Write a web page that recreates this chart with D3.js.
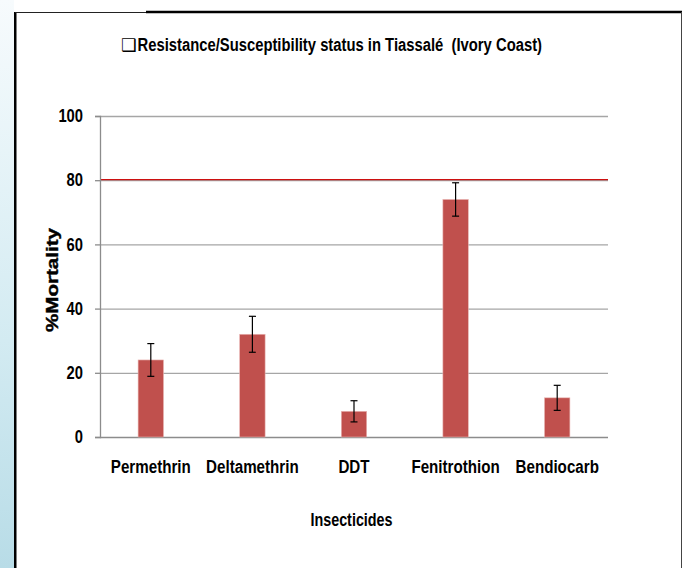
<!DOCTYPE html>
<html>
<head>
<meta charset="utf-8">
<script src="https://cdn.jsdelivr.net/npm/d3@7"></script>
<style>
  body { margin: 0; background: #fff; }
  svg text { font-family: 'Liberation Sans', Arial, sans-serif; font-weight: bold; fill: #000; }
</style>
</head>
<body>
<svg id="chart"></svg>
<script>
const categories = ['Permethrin', 'Deltamethrin', 'DDT', 'Fenitrothion', 'Bendiocarb'];
const mortality = [24, 32, 8, 74, 12.2];
const errors = [5.1, 5.6, 3.3, 5.2, 3.9];
const yTicks = [0, 20, 40, 60, 80, 100];
const threshold = 80;

const width = 683, height = 568;
const margin = { top: 116, right: 75, bottom: 131, left: 100 };
const narrow = 0.82; // labels look condensed in the reference

const svg = d3.select('#chart')
    .attr('width', width)
    .attr('height', height);

// left blue strip
const defs = svg.append('defs');
const grad = defs.append('linearGradient')
    .attr('id', 'strip')
    .attr('x1', 0).attr('y1', 0).attr('x2', 0).attr('y2', 1);
grad.append('stop').attr('offset', '0%').attr('stop-color', '#f7fbfd');
grad.append('stop').attr('offset', '60%').attr('stop-color', '#d3ebf2');
grad.append('stop').attr('offset', '100%').attr('stop-color', '#b8dce7');

svg.append('rect')
    .attr('x', 0).attr('y', 0)
    .attr('width', 14).attr('height', height)
    .attr('fill', 'url(#strip)');

// frame
svg.append('rect')
    .attr('x', 14).attr('y', 12)
    .attr('width', 2.5).attr('height', height - 12)
    .attr('fill', '#000');
svg.append('line')
    .attr('x1', 15).attr('x2', 146).attr('y1', 12.5).attr('y2', 12.5)
    .attr('stroke', '#222').attr('stroke-width', 1);
svg.append('line')
    .attr('x1', 146).attr('x2', 682).attr('y1', 12).attr('y2', 12)
    .attr('stroke', '#000').attr('stroke-width', 2.5);
svg.append('line')
    .attr('x1', 681.5).attr('x2', 681.5).attr('y1', 12).attr('y2', height)
    .attr('stroke', '#444').attr('stroke-width', 1);

const x = d3.scaleBand()
    .domain(categories)
    .range([margin.left, width - margin.right])
    .paddingInner(0.75)
    .paddingOuter(0.375);

const y = d3.scaleLinear()
    .domain([0, 100])
    .range([height - margin.bottom, margin.top]);

// gridlines
svg.append('g')
    .selectAll('line')
    .data(yTicks.filter(d => d > 0))
    .join('line')
    .attr('x1', margin.left).attr('x2', width - margin.right)
    .attr('y1', d => y(d) + 0.5).attr('y2', d => y(d) + 0.5)
    .attr('stroke', '#a6a6a6').attr('stroke-width', 1.3);

// threshold line
svg.append('line')
    .attr('x1', margin.left).attr('x2', width - margin.right)
    .attr('y1', y(threshold) - 0.6).attr('y2', y(threshold) - 0.6)
    .attr('stroke', '#cc1010').attr('stroke-width', 1.4);

// y axis
const yAxis = d3.axisLeft(y)
    .tickValues(yTicks)
    .tickSize(5)
    .tickPadding(12);

const gY = svg.append('g')
    .attr('transform', `translate(${margin.left},0)`)
    .call(yAxis);
gY.select('.domain').attr('stroke', '#8c8c8c').attr('stroke-width', 1.3);
gY.selectAll('.tick line').attr('stroke', '#8c8c8c').attr('stroke-width', 1.3);
gY.selectAll('.tick text')
    .attr('font-size', 18)
    .attr('font-family', null)
    .attr('fill', '#000')
    .attr('x', -17 / narrow)
    .attr('transform', `scale(${narrow},1)`);

// x axis baseline
svg.append('line')
    .attr('x1', margin.left).attr('x2', width - margin.right)
    .attr('y1', y(0) + 0.5).attr('y2', y(0) + 0.5)
    .attr('stroke', '#8c8c8c').attr('stroke-width', 1.3);

// bars
svg.append('g')
    .selectAll('rect')
    .data(categories)
    .join('rect')
    .attr('x', d => x(d))
    .attr('width', x.bandwidth())
    .attr('y', (d, i) => y(mortality[i]))
    .attr('height', (d, i) => y(0) - y(mortality[i]))
    .attr('fill', '#c0504d')
    .attr('stroke', '#e8b4b2')
    .attr('stroke-width', 0.6);

// error bars
const eb = svg.append('g')
    .selectAll('g')
    .data(categories)
    .join('g')
    .attr('transform', d => `translate(${x(d) + x.bandwidth() / 2},0)`);
eb.append('line')
    .attr('y1', (d, i) => y(mortality[i] + errors[i]))
    .attr('y2', (d, i) => y(mortality[i] - errors[i]))
    .attr('stroke', '#000').attr('stroke-width', 1.2);
eb.append('line')
    .attr('x1', -3.5).attr('x2', 3.5)
    .attr('y1', (d, i) => y(mortality[i] + errors[i]))
    .attr('y2', (d, i) => y(mortality[i] + errors[i]))
    .attr('stroke', '#000').attr('stroke-width', 1.2);
eb.append('line')
    .attr('x1', -3.5).attr('x2', 3.5)
    .attr('y1', (d, i) => y(mortality[i] - errors[i]))
    .attr('y2', (d, i) => y(mortality[i] - errors[i]))
    .attr('stroke', '#000').attr('stroke-width', 1.2);

// category labels
svg.append('g')
    .selectAll('text')
    .data(categories)
    .join('text')
    .attr('transform', d => `translate(${x(d) + x.bandwidth() / 2},473) scale(${narrow},1)`)
    .attr('text-anchor', 'middle')
    .attr('font-size', 18.5)
    .text(d => d);

// axis titles
svg.append('text')
    .attr('transform', `translate(351.5,526) scale(${narrow},1)`)
    .attr('text-anchor', 'middle')
    .attr('font-size', 17.5)
    .text('Insecticides');

svg.append('text')
    .attr('transform', 'translate(57.5,280) rotate(-90)')
    .attr('text-anchor', 'middle')
    .attr('font-size', 16.5)
    .attr('stroke', '#000')
    .attr('stroke-width', 0.4)
    .attr('textLength', 104)
    .attr('lengthAdjust', 'spacingAndGlyphs')
    .text('%Mortality');

// chart title
const title = svg.append('text')
    .attr('x', 121).attr('y', 50.7)
    .attr('font-size', 17.5);
title.append('tspan')
    .style('font-family', "'DejaVu Sans', sans-serif")
    .style('font-weight', 'normal')
    .attr('font-size', 17.5)
    .text('\u2751');
title.append('tspan')
    .attr('x', 137.5)
    .attr('textLength', 404.5)
    .attr('lengthAdjust', 'spacingAndGlyphs')
    .text('Resistance/Susceptibility status in Tiassal\u00e9 \u00a0(Ivory Coast)');
</script>
</body>
</html>
